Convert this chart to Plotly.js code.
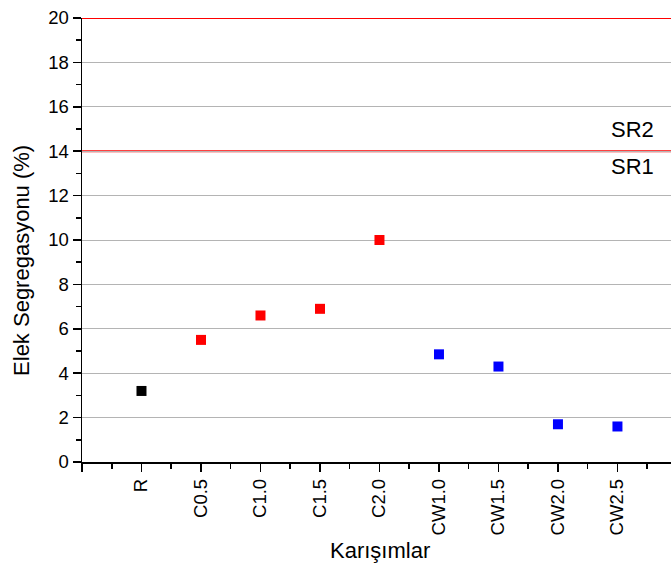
<!DOCTYPE html>
<html>
<head>
<meta charset="utf-8">
<script src="https://cdn.plot.ly/plotly-3.0.1.min.js"></script>
<style>
  html, body { margin: 0; padding: 0; background: #fff; }
  #chart { width: 671px; height: 568px; }
</style>
</head>
<body>
<div id="chart"></div>
<script>
// Mixtures and their sieve segregation values (%)
const mixtures = ['R', 'C0.5', 'C1.0', 'C1.5', 'C2.0', 'CW1.0', 'CW1.5', 'CW2.0', 'CW2.5'];
const segregation = [3.2, 5.5, 6.6, 6.9, 10.0, 4.85, 4.3, 1.7, 1.6];
const pointColors = ['#000000', '#ff0000', '#ff0000', '#ff0000', '#ff0000', '#0000ff', '#0000ff', '#0000ff', '#0000ff'];

// Limit classes
const limitValues = [14, 20];
const limitLabels = ['SR1', 'SR2'];
const limitLabelY = [13.3, 15.0];

const idx = mixtures.map((_, i) => i);

const trace = {
  x: idx,
  y: segregation,
  mode: 'markers',
  type: 'scatter',
  marker: { symbol: 'square', size: 10, color: pointColors, line: { width: 0 } },
  hoverinfo: 'skip',
  cliponaxis: false
};

const tickVals = [-1].concat(idx);
const tickText = [''].concat(mixtures);
const minorVals = [-1].concat(idx).map(v => v + 0.5);

const layout = {
  width: 671,
  height: 568,
  margin: { l: 82, r: 0, t: 18, b: 106 },
  paper_bgcolor: '#ffffff',
  plot_bgcolor: '#ffffff',
  showlegend: false,
  font: { family: 'Arial, "Liberation Sans", sans-serif', color: '#000', size: 18.5 },
  xaxis: {
    range: [-1, 8.9],
    tickmode: 'array',
    tickvals: tickVals,
    ticktext: tickText,
    tickangle: -90,
    ticks: 'outside',
    ticklen: 8,
    tickwidth: 1.5,
    tickcolor: '#000',
    minor: { tickmode: 'array', tickvals: minorVals, ticks: 'outside', ticklen: 5, tickwidth: 1.5, tickcolor: '#000' },
    showline: true,
    linecolor: '#000',
    linewidth: 1.5,
    showgrid: false,
    zeroline: false,
    tickfont: { size: 18.5 }
  },
  yaxis: {
    range: [0, 20],
    tickmode: 'linear',
    tick0: 0,
    dtick: 2,
    ticks: 'outside',
    ticklen: 8,
    tickwidth: 1.5,
    tickcolor: '#000',
    minor: { dtick: 1, ticks: 'outside', ticklen: 5, tickwidth: 1.5, tickcolor: '#000', showgrid: false },
    showline: true,
    linecolor: '#000',
    linewidth: 1.5,
    showgrid: true,
    gridcolor: '#b4b4b4',
    gridwidth: 1,
    zeroline: false,
    tickfont: { size: 18.5 }
  },
  shapes: limitValues.map(v => ({
    type: 'line', xref: 'paper', yref: 'y',
    x0: 0, x1: 1, y0: v, y1: v,
    line: { color: '#ff0000', width: 2 },
    layer: 'below'
  })),
  annotations: limitLabels.map((t, i) => ({
    x: 8.25, y: limitLabelY[i], xref: 'x', yref: 'y',
    text: t, showarrow: false,
    font: { size: 22, color: '#000' }
  })).concat([
    // axis titles
    {
      x: 0.506, y: -0.2, xref: 'paper', yref: 'paper',
      xanchor: 'center', yanchor: 'middle',
      text: 'Karışımlar', showarrow: false,
      font: { size: 22, color: '#000' }
    },
    {
      x: -0.1027, y: 0.454, xref: 'paper', yref: 'paper',
      xanchor: 'center', yanchor: 'middle', textangle: -90,
      text: 'Elek Segregasyonu (%)', showarrow: false,
      font: { size: 22, color: '#000' }
    }
  ])
};

Plotly.newPlot('chart', [trace], layout, { staticPlot: true, displayModeBar: false });
</script>
</body>
</html>
